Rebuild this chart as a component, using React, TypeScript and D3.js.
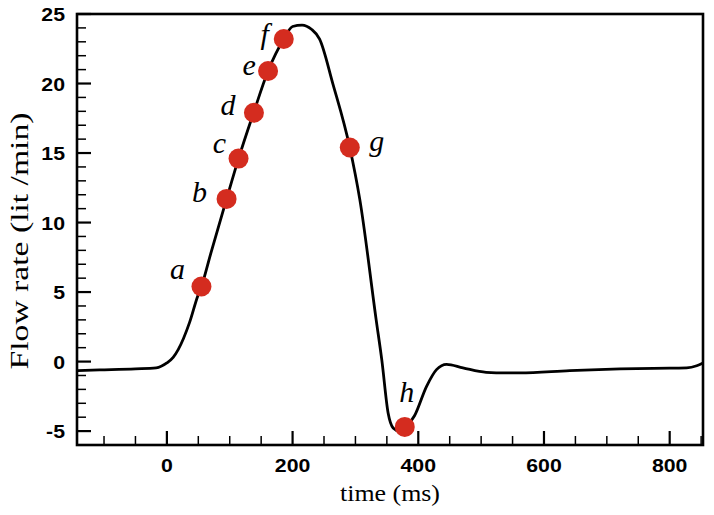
import React from "react";
import * as d3 from "d3";

// Flow waveform (time in ms, flow rate in lit/min)
const timeMs = [-143, -107, -50, -17, 0, 10, 18, 36, 49, 55, 70, 95, 114, 138, 161, 186, 200, 215, 230, 243, 264, 291, 307, 333, 342, 352, 360, 370, 379, 394, 413, 429, 445, 471, 508, 540, 562, 641, 721, 800, 827, 843, 853];
const flowRate = [-0.65, -0.6, -0.52, -0.45, -0.1, 0.3, 0.86, 2.8, 4.7, 5.4, 7.8, 11.7, 14.6, 17.9, 20.9, 23.2, 24.1, 24.2, 23.9, 23.2, 20.0, 15.4, 11.65, 3.0, 0.1, -3.7, -4.77, -5.0, -4.75, -3.9, -1.8, -0.58, -0.2, -0.45, -0.77, -0.81, -0.81, -0.65, -0.53, -0.47, -0.45, -0.3, -0.1];

// Marked instants
const pointLabels = ["a", "b", "c", "d", "e", "f", "g", "h"];
const pointTime = [55, 95, 114, 138.5, 161, 186, 291, 378.5];
const pointFlow = [5.4, 11.7, 14.6, 17.9, 20.9, 23.2, 15.4, -4.7];

// Axis ticks
const xMajorTicks = [0, 200, 400, 600, 800];
const yMajorTicks = [-5, 0, 5, 10, 15, 20, 25];
const xDomain = [-143, 853];
const yDomain = [-6, 25];

const W = 714;
const H = 515;
const L = 77, R = 703, T = 14, B = 445;

// label offsets (pixels) relative to marker centre
const labelOffsets: [number, number][] = [
  [-24, -8], [-27, 3], [-19, -6], [-26, 2], [-19, 4], [-19, 5], [27, 4], [2, -25],
];

const sans = "'Liberation Sans'";
const serif = "'Liberation Serif'";

export default function App() {
  const x = d3.scaleLinear().domain(xDomain).range([L, R]);
  const y = d3.scaleLinear().domain(yDomain).range([B, T]);

  const data = timeMs.map((t, i) => [t, flowRate[i]] as [number, number]);
  const line = d3
    .line<[number, number]>()
    .x((d) => x(d[0]))
    .y((d) => y(d[1]))
    .curve(d3.curveMonotoneX);

  const xMinor = d3.range(-100, 851, 50).filter((v) => v % 200 !== 0);
  const yMinor = d3.range(-6, 25, 1).filter((v) => v % 5 !== 0);

  return (
    <svg width={W} height={H} style={{ position: "absolute", left: 0, top: 0 }}>
      <rect x={0} y={0} width={W} height={H} fill="#fff" />
      {xMinor.map((v) => (
        <line key={"xm" + v} x1={x(v)} x2={x(v)} y1={B} y2={B - 9} stroke="#000" strokeWidth={1.5} />
      ))}
      {yMinor.map((v) => (
        <line key={"ym" + v} x1={L} x2={L + 9} y1={y(v)} y2={y(v)} stroke="#000" strokeWidth={1.5} />
      ))}
      {xMajorTicks.map((v) => (
        <line key={"xM" + v} x1={x(v)} x2={x(v)} y1={B} y2={B - 14} stroke="#000" strokeWidth={2.2} />
      ))}
      {yMajorTicks.map((v) => (
        <line key={"yM" + v} x1={L} x2={L + 14} y1={y(v)} y2={y(v)} stroke="#000" strokeWidth={2.2} />
      ))}
      <rect x={L} y={T} width={R - L} height={B - T} fill="none" stroke="#000" strokeWidth={2.6} />
      {xMajorTicks.map((v) => (
        <text
          key={"xl" + v}
          transform={`translate(${x(v)},472) scale(1.12,1)`}
          textAnchor="middle"
          style={{ fontFamily: sans, fontWeight: "bold", fontSize: 19 }}
        >
          {v}
        </text>
      ))}
      {yMajorTicks.map((v) => (
        <text
          key={"yl" + v}
          transform={`translate(65,${y(v) + 7}) scale(1.12,1)`}
          textAnchor="end"
          style={{ fontFamily: sans, fontWeight: "bold", fontSize: 19 }}
        >
          {v}
        </text>
      ))}
      <path d={line(data) || ""} fill="none" stroke="#000" strokeWidth={2.8} strokeLinejoin="round" />
      {pointTime.map((t, i) => (
        <circle key={"p" + i} cx={x(t)} cy={y(pointFlow[i])} r={10} fill="#d42c1f" />
      ))}
      {pointLabels.map((lab, i) => (
        <text
          key={"pl" + i}
          x={x(pointTime[i]) + labelOffsets[i][0]}
          y={y(pointFlow[i]) + labelOffsets[i][1]}
          textAnchor="middle"
          style={{ fontFamily: serif, fontStyle: "italic", fontSize: 30 }}
        >
          {lab}
        </text>
      ))}
      <text
        x={390}
        y={501}
        textAnchor="middle"
        textLength={100}
        lengthAdjust="spacingAndGlyphs"
        style={{ fontFamily: serif, fontSize: 24 }}
      >
        time (ms)
      </text>
      <text
        transform="translate(28,241) rotate(-90)"
        textAnchor="middle"
        textLength={257}
        lengthAdjust="spacingAndGlyphs"
        style={{ fontFamily: serif, fontSize: 26 }}
      >
        Flow rate (lit /min)
      </text>
    </svg>
  );
}
